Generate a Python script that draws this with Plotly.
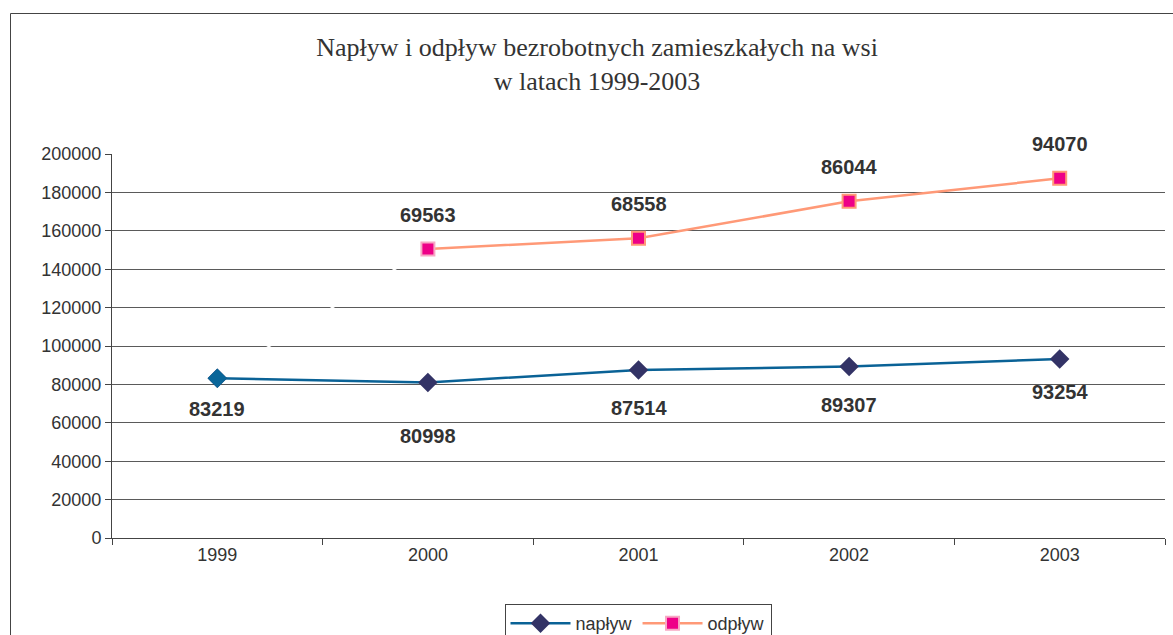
import plotly.graph_objects as go

years = ["1999", "2000", "2001", "2002", "2003"]
naplyw = [83219, 80998, 87514, 89307, 93254]
odplyw = [None, 69563, 68558, 86044, 94070]
y_ticks = [0, 20000, 40000, 60000, 80000, 100000, 120000, 140000, 160000, 180000, 200000]

# stacked line: odpływ plotted on top of napływ
odplyw_stacked = [n + (o if o is not None else 0) for n, o in zip(naplyw, odplyw)]

W, H = 1173, 635
L, R, T, B = 112, 1165, 154, 538
pw, ph = R - L, B - T
def px(x): return (x - L) / pw
def py(y): return (B - y) / ph

fig = go.Figure()

# hidden (white) first segment of the stacked odpływ series
fig.add_trace(go.Scatter(
    x=years[:2], y=odplyw_stacked[:2], mode="lines",
    line=dict(color="white", width=2), showlegend=False, hoverinfo="skip"))

fig.add_trace(go.Scatter(
    x=years, y=naplyw, mode="lines+markers", name="napływ",
    line=dict(color="#0a6296", width=2.5),
    marker=dict(symbol="diamond", size=15, color="#333366", line=dict(width=0))))

# 1999 point of napływ drawn in the line colour
fig.add_trace(go.Scatter(
    x=years[:1], y=naplyw[:1], mode="markers", showlegend=False, hoverinfo="skip",
    marker=dict(symbol="diamond", size=15, color="#0a6699", line=dict(width=0))))

fig.add_trace(go.Scatter(
    x=years[1:], y=odplyw_stacked[1:], mode="lines+markers", name="odpływ",
    line=dict(color="#ff9977", width=2.5),
    marker=dict(symbol="square", size=13, color="#ee0088",
                line=dict(color=["#f7a8c4", "#ff9977", "#ff9977", "#ff9977"], width=2))))

label_font = dict(family="Liberation Sans, Arial", size=20, color="#333333")
nap_shift = [-31, -54, -38, -38, -33]
for i, v in enumerate(naplyw):
    fig.add_annotation(x=i, y=v, text=f"<b>{v}</b>", showarrow=False,
                       yshift=nap_shift[i], font=label_font)
for i, (v, s) in enumerate(zip(odplyw, odplyw_stacked)):
    if v is None:
        continue
    fig.add_annotation(x=i, y=s, text=f"<b>{v}</b>", showarrow=False,
                       yshift=34, font=label_font)

# outer chart border (open on the right, beyond the picture edge)
fig.add_shape(type="rect", xref="paper", yref="paper",
              x0=px(10.5), x1=px(1185), y0=py(645), y1=py(13.5),
              line=dict(color="#444444", width=1), fillcolor="rgba(0,0,0,0)", layer="below")

fig.update_layout(
    width=W, height=H,
    margin=dict(l=L, r=W - R, t=T, b=H - B, autoexpand=False),
    paper_bgcolor="white", plot_bgcolor="white",
    title=dict(text="Napływ i odpływ bezrobotnych zamieszkałych na wsi<br>w latach 1999-2003",
               x=0.509, xanchor="center", y=1 - 56 / H, yanchor="middle",
               font=dict(family="Liberation Serif, Times New Roman", size=26, color="#333333")),
    font=dict(family="Liberation Sans, Arial", size=18, color="#333333"),
    showlegend=True,
    legend=dict(orientation="h", x=px(638), xanchor="center", y=py(604), yanchor="top",
                bordercolor="#444444", borderwidth=1, bgcolor="white",
                font=dict(size=18, color="#333333"), itemwidth=60),
)

fig.update_xaxes(type="category", range=[-0.5, 4.5], tickson="boundaries",
                 ticks="outside", ticklen=6, tickcolor="#444444",
                 showline=True, linecolor="#444444", linewidth=1,
                 showgrid=False, tickfont=dict(size=18, color="#333333"))
fig.update_yaxes(range=[0, 200000], tickvals=y_ticks, ticktext=[str(t) for t in y_ticks],
                 ticks="outside", ticklen=6, tickcolor="#444444",
                 showline=True, linecolor="#444444", linewidth=1,
                 showgrid=True, gridcolor="#5a5a5a", gridwidth=1, zeroline=False,
                 tickfont=dict(size=18, color="#333333"))

fig.write_html("out.html", config={"displayModeBar": False},
               post_script="document.body.style.margin='0';document.body.style.overflow='hidden';")
